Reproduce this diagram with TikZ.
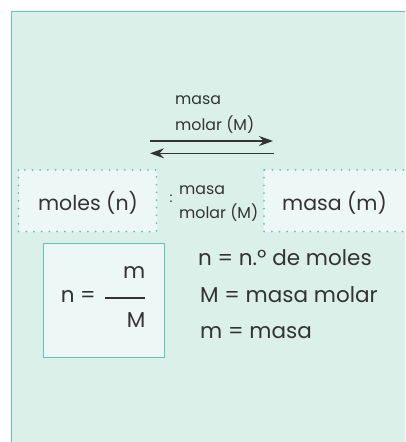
\documentclass[tikz,border=0pt]{standalone}
\usepackage{fontspec}
\setmainfont{Poppins}
\usetikzlibrary{arrows.meta}
\definecolor{frame}{HTML}{5CC6B3}
\definecolor{bg}{HTML}{DCF0EA}
\definecolor{boxbg}{HTML}{EDF7F5}
\definecolor{txt}{HTML}{333333}
\begin{document}
\begin{tikzpicture}[x=1pt,y=-1pt,
  lbl/.style={inner sep=0pt,text=txt},
  big/.style={lbl,font=\fontsize{20.5}{24}\selectfont},
  leg/.style={lbl,font=\fontsize{21.5}{25}\selectfont,anchor=west},
  small/.style={lbl,font=\fontsize{15.8}{18}\selectfont,anchor=west},
  dotbox/.style={draw=frame,fill=boxbg,line width=2pt,line cap=round,dash pattern=on 0pt off 7.7pt},
  conv/.style={draw=txt,line width=1.3pt,-{Stealth[length=14pt,width=10pt]}}]
\useasboundingbox (0,0) rectangle (405,442);
\fill[white] (0,0) rectangle (405,442);
\begin{scope}
\clip (0,0) rectangle (405,442);
\draw[frame,fill=bg,line width=1.6pt] (11.5,11.5) rectangle (430,470);
\path[dotbox] (18.5,170) rectangle (156.5,231.5);
\path[dotbox] (264,170) rectangle (430,231.5);
\end{scope}
% labels in boxes
\node[big] (moles) at (88,203) {moles (n)};
\node[big] (masa) at (334.5,203) {masa (m)};
% arrow labels
\node[small] (t1) at (175,100) {masa};
\node[small] (t2) at (175,125) {molar (M)};
% arrows
\coordinate (a1s) at (150,141);
\coordinate (a1e) at (273,141);
\coordinate (a2s) at (274,153.3);
\coordinate (a2e) at (150,153.3);
\draw[conv] (a1s) -- (a1e);
\draw[conv] (a2s) -- (a2e);
% middle text
\node[lbl,font=\fontsize{14}{16}\selectfont] (colon) at (171,199) {:};
\node[small] (m1) at (179,190) {masa};
\node[small] (m2) at (179,213) {molar (M)};
% formula box
\draw[frame,fill=boxbg,line width=1pt] (43.3,243.3) rectangle (164,357.3);
\node[leg,anchor=east] (neq) at (96,296) {n =};
\node[leg,anchor=east] (num) at (145.5,272) {m};
\node[leg,anchor=east] (den) at (145.5,320) {M};
\coordinate (b1) at (105,298);
\coordinate (b2) at (145,298);
\draw[txt,line width=2pt] (b1) -- (b2);
% legend
\node[leg] (l1) at (198,258) {n = n.º de moles};
\node[leg] (l2) at (200,295) {M = masa molar};
\node[leg] (l3) at (200,333) {m = masa};
\end{tikzpicture}
\end{document}
